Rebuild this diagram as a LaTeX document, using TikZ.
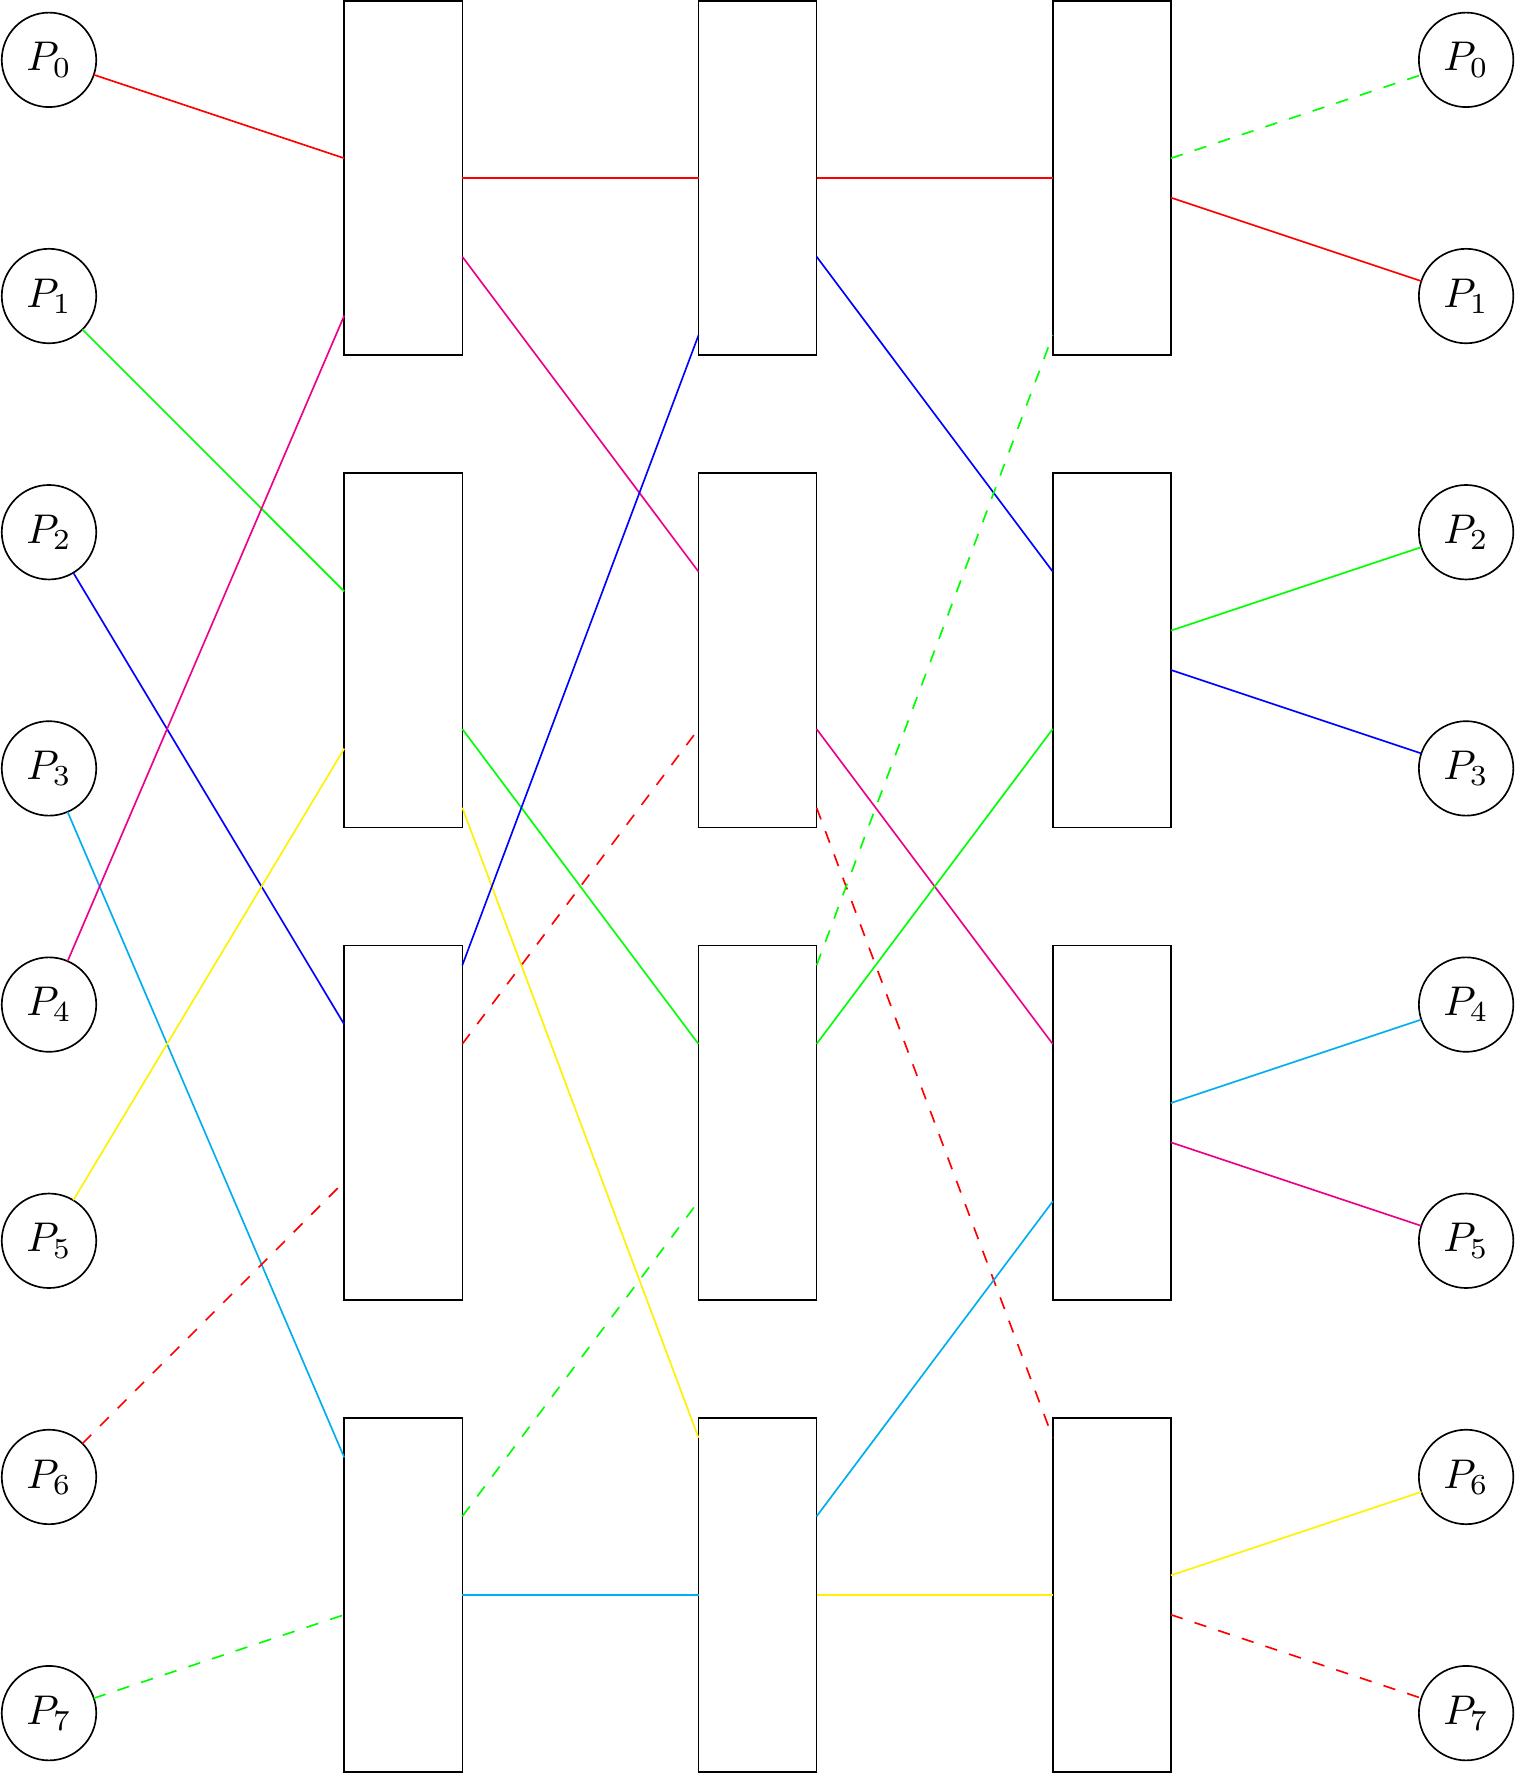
\documentclass[tikz,border=0pt]{standalone}
\usepackage{xcolor}
\usepackage{tikz}
\usetikzlibrary{positioning}
\tikzset{
  proc/.style={circle, draw=black, minimum size=0.8cm, inner sep=0pt, outer sep=0pt},
  sw/.style={rectangle, draw=black, minimum width=1cm, minimum height=3cm, inner sep=0pt, outer sep=0pt},
  link/.style={line width=0.4pt},
  linkdash/.style={link, dashed},
}

\begin{document}
\begin{tikzpicture}
  \useasboundingbox (-0.415,0.507) rectangle (12.415,-14.507);
  % inputs
  \node[proc] (in0) at (0,0) {$P_0$};
  \node[proc, below=1.2cm of in0] (in1) {$P_1$};
  \node[proc, below=1.2cm of in1] (in2) {$P_2$};
  \node[proc, below=1.2cm of in2] (in3) {$P_3$};
  \node[proc, below=1.2cm of in3] (in4) {$P_4$};
  \node[proc, below=1.2cm of in4] (in5) {$P_5$};
  \node[proc, below=1.2cm of in5] (in6) {$P_6$};
  \node[proc, below=1.2cm of in6] (in7) {$P_7$};
  % switch stages
  \node[sw] (sa0) at (3,-1) {};
  \node[sw, below=1cm of sa0] (sa1) {};
  \node[sw, below=1cm of sa1] (sa2) {};
  \node[sw, below=1cm of sa2] (sa3) {};
  \node[sw, right=2cm of sa0] (sb0) {};
  \node[sw, below=1cm of sb0] (sb1) {};
  \node[sw, below=1cm of sb1] (sb2) {};
  \node[sw, below=1cm of sb2] (sb3) {};
  \node[sw, right=2cm of sb0] (sc0) {};
  \node[sw, below=1cm of sc0] (sc1) {};
  \node[sw, below=1cm of sc1] (sc2) {};
  \node[sw, below=1cm of sc2] (sc3) {};
  % outputs
  \node[proc] (out0) at (12,0) {$P_0$};
  \node[proc, below=1.2cm of out0] (out1) {$P_1$};
  \node[proc, below=1.2cm of out1] (out2) {$P_2$};
  \node[proc, below=1.2cm of out2] (out3) {$P_3$};
  \node[proc, below=1.2cm of out3] (out4) {$P_4$};
  \node[proc, below=1.2cm of out4] (out5) {$P_5$};
  \node[proc, below=1.2cm of out5] (out6) {$P_6$};
  \node[proc, below=1.2cm of out6] (out7) {$P_7$};
  % stage 1
  \draw[link, red] (in0) -- (sa0);
  \draw[link, green] (in1) -- (sa1);
  \draw[link, blue] (in2) -- (sa2);
  \draw[link, cyan] (in3) -- (sa3);
  \draw[link, magenta] (in4) -- (sa0);
  \draw[link, yellow] (in5) -- (sa1);
  \draw[linkdash, red] (in6) -- (sa2);
  \draw[linkdash, green] (in7) -- (sa3);
  % stage 2
  \draw[link, red] (sa0) -- (sb0);
  \draw[link, magenta] (sa0) -- (sb1);
  \draw[link, green] (sa1) -- (sb2);
  \draw[link, yellow] (sa1) -- (sb3);
  \draw[link, blue] (sa2) -- (sb0);
  \draw[linkdash, red] (sa2) -- (sb1);
  \draw[linkdash, green] (sa3) -- (sb2);
  \draw[link, cyan] (sa3) -- (sb3);
  % stage 3
  \draw[link, red] (sb0) -- (sc0);
  \draw[link, blue] (sb0) -- (sc1);
  \draw[link, magenta] (sb1) -- (sc2);
  \draw[linkdash, red] (sb1) -- (sc3);
  \draw[linkdash, green] (sb2) -- (sc0);
  \draw[link, green] (sb2) -- (sc1);
  \draw[link, cyan] (sb3) -- (sc2);
  \draw[link, yellow] (sb3) -- (sc3);
  % to outputs
  \draw[linkdash, green] (sc0) -- (out0);
  \draw[link, red] (sc0) -- (out1);
  \draw[link, green] (sc1) -- (out2);
  \draw[link, blue] (sc1) -- (out3);
  \draw[link, cyan] (sc2) -- (out4);
  \draw[link, magenta] (sc2) -- (out5);
  \draw[link, yellow] (sc3) -- (out6);
  \draw[linkdash, red] (sc3) -- (out7);
\end{tikzpicture}
\end{document}
